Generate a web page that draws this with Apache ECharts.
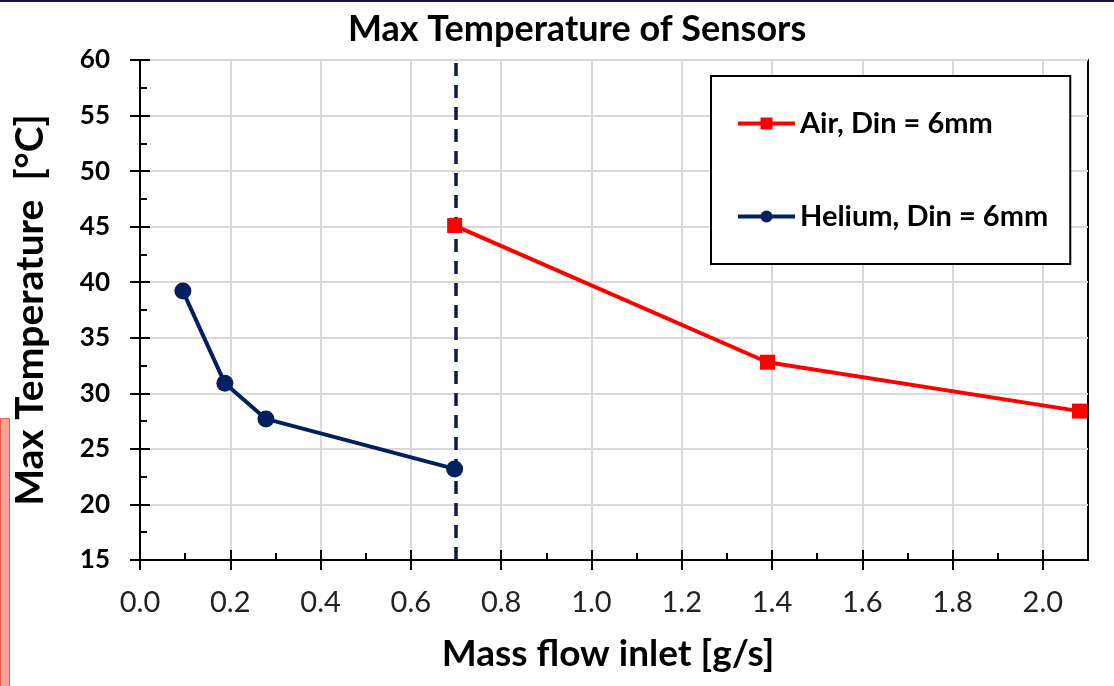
<!DOCTYPE html>
<html>
<head>
    <meta charset="utf-8">
    <title>Max Temperature of Sensors</title>
    <style>
        html, body { margin: 0; padding: 0; background: #fff; }
    </style>
</head>
<body>
<div id="sensorChart" style="width: 1114px;height:686px;"></div>
<script src="https://cdn.jsdelivr.net/npm/echarts@6/dist/echarts.min.js"></script>

<script type="text/javascript">
    // values
    var airFlow = [0.697, 1.390, 2.081];
    var airTemp = [45.1, 32.8, 28.4];
    var heliumFlow = [0.095, 0.188, 0.279, 0.697];
    var heliumTemp = [39.2, 30.9, 27.7, 23.2];
    var xTicks = [0.0, 0.2, 0.4, 0.6, 0.8, 1.0, 1.2, 1.4, 1.6, 1.8, 2.0];
    var yTicks = [15, 20, 25, 30, 35, 40, 45, 50, 55, 60];
    var splitFlow = 0.7;   // dashed divider

    var font = 'Lato';
    var xMin = 0, xMax = 2.1;
    var yMin = yTicks[0], yMax = yTicks[yTicks.length - 1];

    function pairs(xs, ys) {
        return xs.map(function (x, i) { return [x, ys[i]]; });
    }

    var dom = document.getElementById("sensorChart");
    var myChart = echarts.init(dom);
    var option = {
        animation: false,
        backgroundColor: '#fff',
        textStyle: { fontFamily: font },
        title: {
            text: 'Max Temperature of Sensors',
            left: 343,
            top: 6,
            textStyle: { fontFamily: font, fontWeight: 'bold', fontSize: 36, color: '#000' }
        },
        legend: {
            orient: 'vertical',
            left: 711,
            top: 76,
            padding: [33, 22, 33, 25],
            itemGap: 64,
            itemWidth: 57,
            itemHeight: 15,
            backgroundColor: '#fff',
            borderColor: '#000',
            borderWidth: 2,
            lineStyle: { width: 4 },
            textStyle: { fontFamily: font, fontWeight: 'bold', fontSize: 29, color: '#000' },
            data: ['Air, Din = 6mm', 'Helium, Din = 6mm']
        },
        grid: {
            left: 140, top: 60, right: 26, bottom: 126,
            show: true,
            borderColor: '#000',
            borderWidth: 2
        },
        xAxis: [
            {
                type: 'value', min: xMin, max: xMax, interval: 0.2,
                name: 'Mass flow inlet [g/s]',
                nameLocation: 'middle',
                nameGap: 76,
                nameTextStyle: { fontFamily: font, fontWeight: 'bold', fontSize: 37, color: '#000', padding: [0, 12, 0, 0] },
                axisLine: { lineStyle: { color: '#000', width: 2 } },
                axisTick: { show: true, inside: false, length: 10, lineStyle: { color: '#000', width: 2 }, customValues: xTicks },
                axisLabel: {
                    color: '#222', fontSize: 29, margin: 28, showMaxLabel: false,
                    formatter: function (v) { return v.toFixed(1); }
                },
                splitLine: { show: true, lineStyle: { color: '#d9d9d9', width: 2 } }
            },
            {
                type: 'value', min: xMin, max: xMax, interval: 0.1,
                position: 'bottom',
                axisLine: { show: false },
                axisTick: { show: true, inside: true, length: 7, lineStyle: { color: '#000', width: 2 } },
                axisLabel: { show: false },
                splitLine: { show: false }
            },
            {
                type: 'value', min: xMin, max: xMax, interval: 0.2,
                position: 'bottom',
                axisLine: { show: false },
                axisTick: { show: true, inside: true, length: 10, lineStyle: { color: '#000', width: 2 } },
                axisLabel: { show: false },
                splitLine: { show: false }
            }
        ],
        yAxis: [
            {
                type: 'value', min: yMin, max: yMax, interval: 5,
                name: 'Max Temperature  [°C]',
                nameLocation: 'middle',
                nameGap: 90,
                nameTextStyle: { fontFamily: font, fontWeight: 'bold', fontSize: 39, color: '#000' },
                axisLine: { show: true, lineStyle: { color: '#000', width: 2 } },
                axisTick: { show: true, inside: false, length: 10, lineStyle: { color: '#000', width: 2 } },
                axisLabel: { color: '#000', fontWeight: 'bold', fontSize: 26, margin: 30 },
                splitLine: { show: true, lineStyle: { color: '#d9d9d9', width: 2 } }
            },
            {
                type: 'value', min: yMin, max: yMax, interval: 5,
                position: 'left',
                axisLine: { show: false },
                axisTick: { show: true, inside: true, length: 10, lineStyle: { color: '#000', width: 2 } },
                minorTick: { show: true, splitNumber: 2, length: 7, lineStyle: { color: '#000', width: 2 } },
                axisLabel: { show: false },
                splitLine: { show: false }
            }
        ],
        graphic: [
            {
                type: 'rect', left: 0, top: 0, z: 100,
                shape: { width: 1114, height: 2 },
                style: { fill: '#15154a' }
            },
            {
                type: 'rect', left: 0, top: 418, z: 100,
                shape: { width: 9, height: 268 },
                style: { fill: '#f9a196', stroke: '#ef5b48', lineWidth: 1 }
            }
        ],
        series: [
            {
                name: 'Air, Din = 6mm',
                type: 'line',
                data: pairs(airFlow, airTemp),
                symbol: 'rect',
                symbolSize: 15,
                z: 5,
                itemStyle: { color: '#ff0000' },
                lineStyle: { color: '#ff0000', width: 4 }
            },
            {
                name: 'Helium, Din = 6mm',
                type: 'line',
                data: pairs(heliumFlow, heliumTemp),
                symbol: 'circle',
                symbolSize: 17,
                z: 5,
                itemStyle: { color: '#002060' },
                lineStyle: { color: '#002060', width: 4 },
                markLine: {
                    silent: true,
                    symbol: ['none', 'none'],
                    label: { show: false },
                    lineStyle: { color: '#13184a', width: 3.5, type: [13, 9] },
                    data: [{ xAxis: splitFlow }]
                }
            }
        ]
    };
    if (option && typeof option === "object") {
        myChart.setOption(option);
    }
</script>
</body>
</html>
